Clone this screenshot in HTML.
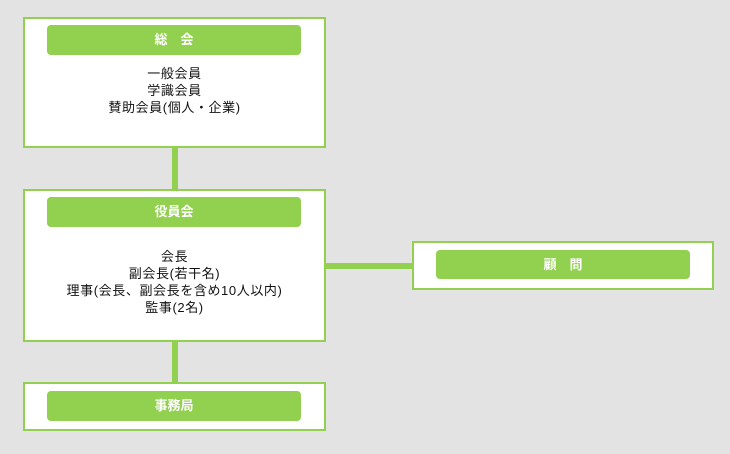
<!DOCTYPE html>
<html><head><meta charset="utf-8"><style>
body{margin:0;width:730px;height:454px;background:#e3e3e3;position:relative;overflow:hidden;font-family:"Liberation Sans","Noto Sans CJK JP",sans-serif;}
.box{position:absolute;background:#fff;border:2px solid #92d050;box-sizing:border-box;}
.hd{position:absolute;background:#92d050;border-radius:4px;color:#fff;font-weight:bold;font-size:13px;text-align:center;box-sizing:border-box;}
.tx{position:absolute;left:0;right:0;text-align:center;font-size:13px;letter-spacing:0.6px;line-height:17px;color:#111;}
.ln{position:absolute;background:#92d050;}
</style></head><body>
<div class="ln" style="left:172px;top:147px;width:6px;height:43px"></div>
<div class="ln" style="left:172px;top:340px;width:6px;height:43px"></div>
<div class="ln" style="left:325px;top:263px;width:88px;height:6px"></div>

<div class="box" style="left:23px;top:17px;width:303px;height:131px">
 <div class="hd" style="left:22px;top:6px;width:254px;height:30px;line-height:30px">総　会</div>
 <div class="tx" style="top:46px">一般会員<br>学識会員<br>賛助会員(個人・企業)</div>
</div>
<div class="box" style="left:23px;top:189px;width:303px;height:153px">
 <div class="hd" style="left:22px;top:6px;width:254px;height:30px;line-height:30px">役員会</div>
 <div class="tx" style="top:57px">会長<br>副会長(若干名)<br>理事(会長、副会長を含め10人以内)<br>監事(2名)</div>
</div>
<div class="box" style="left:23px;top:382px;width:303px;height:49px">
 <div class="hd" style="left:22px;top:7px;width:254px;height:30px;line-height:30px">事務局</div>
</div>
<div class="box" style="left:412px;top:241px;width:302px;height:49px">
 <div class="hd" style="left:22px;top:7px;width:254px;height:29px;line-height:29px">顧　問</div>
</div>
</body></html>
